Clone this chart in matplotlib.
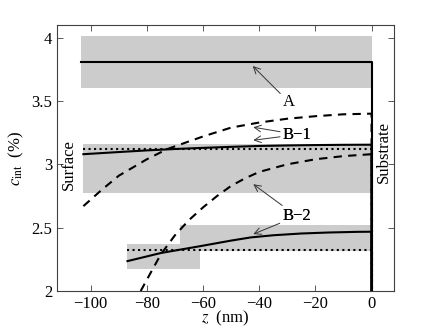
import matplotlib
matplotlib.use('Agg')
import matplotlib.pyplot as plt
from matplotlib.patches import Rectangle

plt.rcParams['font.family'] = ['Liberation Serif', 'DejaVu Serif']
plt.rcParams['mathtext.fontset'] = 'stix'
plt.rcParams['font.size'] = 12

# grey bands (z0, z1, c0, c1)
box_a = (-103.5, 0, 3.60, 4.01)
box_b1 = (-102.6, 0, 2.77, 3.16)
box_b2a = (-86.9, -61.0, 2.17, 2.37)
box_b2b = (-68.1, 0, 2.317, 2.52)

# A
a_z = [-103.5, 0, 0]
a_c = [3.81, 3.81, 2.0]

# B-1
b1_z = [-102.6, -90, -80, -70, -60, -50, -40, -30, -20, -10, 0, 0]
b1_c = [3.08, 3.097, 3.11, 3.121, 3.13, 3.138, 3.145, 3.149, 3.152, 3.154, 3.155, 2.0]
b1_dot_z = [-102.6, 0, 0]
b1_dot_c = [3.12, 3.12, 2.0]
b1_dash_z = [-102.6, -96, -90, -80, -72.8, -60, -50, -40, -30, -20, -10, 0, 0]
b1_dash_c = [2.67, 2.80, 2.91, 3.04, 3.12, 3.22, 3.29, 3.33, 3.36, 3.38, 3.395, 3.40, 2.0]

# B-2
b2_z = [-86.9, -75, -61, -50, -43, -35, -25, -15, -5, 0, 0]
b2_c = [2.236, 2.30, 2.354, 2.398, 2.423, 2.44, 2.454, 2.462, 2.467, 2.468, 2.0]
b2_dot_z = [-86.9, 0, 0]
b2_dot_c = [2.323, 2.323, 2.0]
b2_dash_z = [-82.2, -78, -75, -70, -65, -60, -55, -50, -45, -40, -30, -20, -10, 0, 0]
b2_dash_c = [2.00, 2.17, 2.29, 2.44, 2.56, 2.66, 2.75, 2.83, 2.89, 2.94, 3.00, 3.04, 3.065, 3.08, 2.0]

fig = plt.figure(figsize=(4.36, 3.28), dpi=100)
ax = fig.add_axes([0.1307, 0.1128, 0.773, 0.811])

for z0, z1, c0, c1 in [box_a, box_b1, box_b2a, box_b2b]:
    ax.add_patch(Rectangle((z0, c0), z1 - z0, c1 - c0, facecolor='#cccccc',
                           edgecolor='none', zorder=1))

ax.plot(b1_dot_z, b1_dot_c, color='k', ls=':', lw=1.5, zorder=2)
ax.plot(b2_dot_z, b2_dot_c, color='k', ls=':', lw=1.5, zorder=2)
ax.plot(b1_dash_z, b1_dash_c, color='k', ls=(0, (4, 3)), lw=1.5, zorder=3)
ax.plot(b2_dash_z, b2_dash_c, color='k', ls=(0, (4, 3)), lw=1.5, zorder=3)
ax.plot(b1_z, b1_c, color='k', lw=1.5, zorder=4)
ax.plot(b2_z, b2_c, color='k', lw=1.5, zorder=4)
ax.plot(a_z, a_c, color='k', lw=1.5, zorder=4)

arr = dict(arrowstyle='->', color='#333333', lw=0.7, shrinkA=0, shrinkB=0)
ax.annotate('A', xy=(-42.3, 3.776), xytext=(-31.5, 3.553), arrowprops=arr,
            ha='left', va='top', fontsize=12)
for tip in [(-42.1, 3.293), (-42.1, 3.19)]:
    ax.annotate('B\u22121', xy=tip, xytext=(-31.6, 3.235), arrowprops=arr,
                ha='left', va='center', fontsize=12)
for tip in [(-42.1, 2.843), (-42.1, 2.449)]:
    ax.annotate('B\u22122', xy=tip, xytext=(-31.7, 2.59), arrowprops=arr,
                ha='left', va='center', fontsize=12)

ax.text(-107.6, 3.0, 'Surface', rotation=90, ha='center', va='center', fontsize=12)
ax.text(4.5, 3.1, 'Substrate', rotation=90, ha='center', va='center', fontsize=12)

ax.set_xlim(-112, 8)
ax.set_ylim(2, 4.1)
ax.set_xticks([-100, -80, -60, -40, -20, 0])
ax.set_yticks([2, 2.5, 3, 3.5, 4])
ax.set_yticklabels(['2', '2.5', '3', '3.5', '4'])
ax.tick_params(direction='in', top=True, right=True, length=4, width=0.6,
               color='#404040', labelsize=12)
for s in ax.spines.values():
    s.set_color('#404040')
    s.set_linewidth(0.8)

ax.set_xlabel(r'$z$  (nm)', labelpad=-2)
ax.set_ylabel(r'$c_{\rm int}$  (%)', labelpad=4)

fig.savefig('out.png', dpi=100)
